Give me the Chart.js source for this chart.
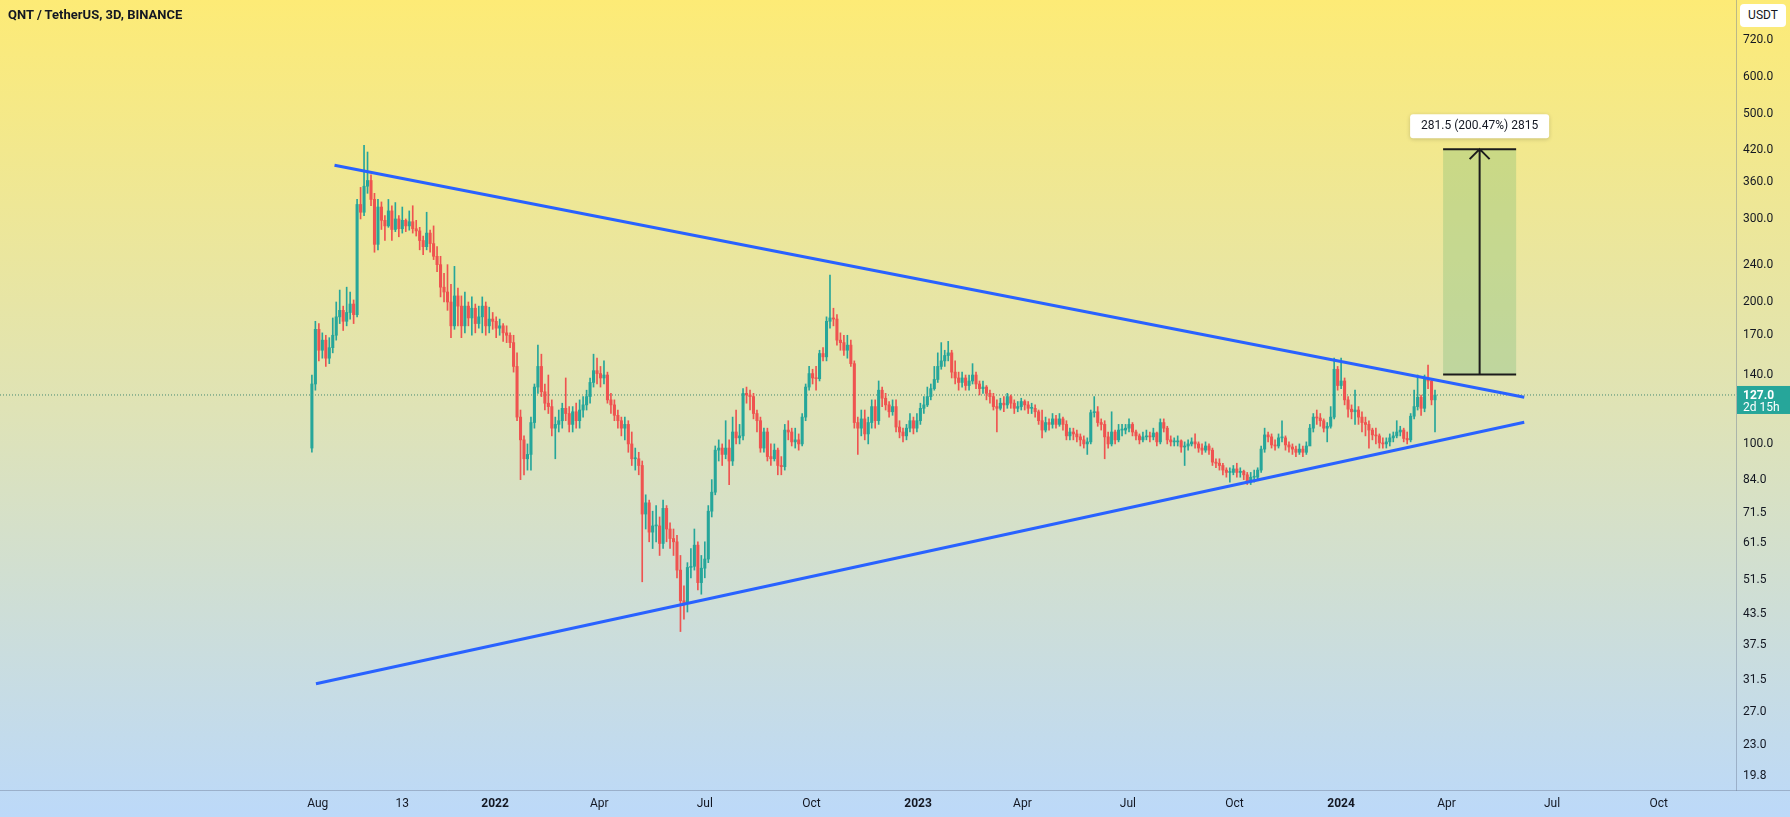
<!DOCTYPE html>
<html>
<head>
<meta charset="utf-8">
<script src="https://cdn.jsdelivr.net/npm/chart.js@4.4.1/dist/chart.umd.min.js"></script>
<style>
  html, body { margin: 0; padding: 0; }
  body {
    width: 1790px; height: 817px; overflow: hidden; position: relative;
    background: linear-gradient(180deg, #fdeb76 0%, #dfe3b6 50%, #bcd9f9 100%);
    font-family: Roboto, "Liberation Sans", sans-serif;
  }
  #chart { position: absolute; left: 0; top: 0; }
  #title { position: absolute; left: 8px; top: 7px; font-size: 13px; font-weight: bold; color: #131722; }
  #unit {
    position: absolute; left: 1740px; top: 4px; width: 46px; height: 23px; line-height: 23px;
    background: #fff; border-radius: 4px; text-align: center; font-size: 12px; color: #131722;
  }
</style>
</head>
<body>
<canvas id="chart" width="1790" height="817"></canvas>
<div id="title">QNT / TetherUS, 3D, BINANCE</div>
<div id="unit">USDT</div>
<script>
// days are counted from 2022-01-01, one candle every 3 days
const firstCandleDay = -158;
const candleStep = 3;
const firstOpen = 98;

const closes = [
  134, 175, 158, 166, 152, 160, 170, 186, 192, 182,
  190, 198, 188, 322, 310, 352, 362, 330, 265, 318,
  298, 290, 312, 285, 300, 286, 298, 290, 296, 286,
  283, 270, 262, 280, 266, 250, 240, 215, 210, 200,
  178, 206, 196, 178, 196, 185, 194, 180, 186, 196,
  178, 184, 182, 176, 178, 172, 170, 164, 146, 114,
  102, 93, 95, 111, 132, 146, 129, 122, 120, 108,
  110, 112, 119, 116, 110, 117, 112, 118, 121, 126,
  135, 143, 141, 138, 140, 124, 121, 115, 112, 108,
  110, 100, 93, 93, 90, 71, 75, 65, 67, 67,
  61.5, 73, 66, 63, 62, 54, 46.5, 46, 54.7, 55,
  61, 50.8, 54.5, 57, 72, 79, 97, 98, 95, 98,
  92, 106, 103, 104, 128, 127, 126, 116, 112, 98,
  106, 94, 93, 97, 90, 89.5, 107, 106, 101, 102,
  100, 114, 132, 141, 138, 137.5, 155.5, 153, 182, 185,
  184, 166, 164, 158, 162, 148, 111, 108, 113, 105,
  111, 120, 112, 130, 125, 121, 117, 120, 108.6, 106,
  104, 108, 112, 108, 112, 119, 121, 126, 131, 137,
  146, 150, 154, 156, 142, 138, 135, 138, 133, 136,
  140, 134, 131, 132, 128, 126, 120, 119, 122, 121,
  126, 122, 119, 120, 123, 121, 119, 119, 117, 112,
  107, 111, 110, 113, 110, 113, 110, 104, 106, 105,
  103.5, 102, 100, 101, 116.5, 117, 111, 110, 103.5, 100,
  106, 102, 107, 107, 108, 110, 106, 104, 102, 103.5,
  104, 103.5, 105.5, 101, 111, 108, 102, 101, 101, 101.5,
  98.5, 99, 100, 101, 100, 98, 97, 99, 97, 91.5,
  91, 90, 88, 87, 87, 88.5, 87, 87.5, 86, 83.5,
  85, 85, 88, 97.5, 104.5, 103.5, 99.5, 99, 103, 103,
  99.5, 98.5, 97.5, 96, 97.5, 96, 99, 108, 114, 113.5,
  112, 108, 109, 114, 144, 133, 136, 124, 118.5, 117,
  118, 114, 111, 110, 107, 104.5, 104, 100.5, 100, 101,
  103, 104, 106, 107, 102.7, 102, 114.5, 120, 125.6, 119,
  137.5, 136, 124, 127
];

const highs = [
  140, 182, 180, 172, 170, 168, 185, 200, 212, 196,
  215, 210, 202, 330, 350, 430, 416, 372, 340, 330,
  326, 305, 330, 320, 325, 305, 318, 300, 312, 320,
  298, 288, 276, 310, 284, 290, 262, 250, 230, 240,
  218, 238, 214, 206, 210, 200, 205, 198, 196, 205,
  200, 195, 190, 186, 184, 180, 178, 172, 170, 156,
  118, 104, 100, 114, 134, 162, 155, 134, 140, 124,
  114, 118, 122, 138, 120, 120, 122, 124, 126, 130,
  138, 155, 152, 146, 150, 142, 128, 124, 118, 114,
  114, 112, 106, 98, 96, 92, 78, 76, 72, 74,
  70, 76, 74, 68, 66, 64, 58, 50, 56, 60,
  66, 62, 58, 62, 74, 84, 99, 102, 100, 112,
  102, 114, 118, 110, 131, 132, 130, 128, 118, 114,
  108, 108, 100, 100, 98, 94, 110, 112, 108, 108,
  105, 116, 134, 146, 144, 146, 158, 160, 186, 228,
  194, 188, 172, 170, 170, 166, 150, 114, 118, 118,
  114, 124, 124, 136, 132, 128, 123, 124, 124, 112,
  108, 110, 116, 114, 116, 122, 126, 132, 134, 146,
  156, 164, 158, 165, 158, 150, 142, 142, 140, 140,
  148, 142, 136, 136, 133, 130, 128, 124, 125, 126,
  128, 127, 124, 123, 125, 124, 123, 122, 121, 118,
  118, 114, 113, 116, 115, 116, 114, 112, 108, 108,
  107, 105, 104, 103, 118, 126, 120, 113, 112, 106,
  117, 107, 110, 110, 110, 113, 111, 107, 105, 106,
  107, 106, 108, 106, 113, 113, 109, 104, 103, 104,
  102, 101, 102, 103, 105, 101, 100, 101, 100, 98,
  93, 93, 91, 89, 89, 90, 91, 89, 88, 87,
  87, 88, 89, 99, 108, 106, 105, 102, 105, 112,
  104, 101, 100, 99, 100, 99, 101, 110, 116, 118,
  116, 113, 111, 120, 152, 146, 152, 138, 126, 121,
  130, 120, 117, 114, 112, 108, 108, 105, 103, 103,
  105, 106, 112, 109, 108, 106, 116, 130, 140, 127,
  140, 147, 137, 130
];

const lows = [
  96, 130, 150, 152, 146, 148, 156, 166, 180, 174,
  178, 184, 180, 186, 300, 305, 340, 320, 255, 258,
  285, 270, 288, 270, 282, 275, 280, 282, 284, 280,
  276, 258, 252, 258, 255, 246, 232, 205, 200, 192,
  168, 175, 178, 168, 172, 178, 170, 172, 176, 172,
  170, 172, 175, 168, 170, 165, 164, 160, 142, 112,
  84, 86, 88, 88, 108, 128, 126, 118, 116, 104,
  93, 106, 108, 112, 106, 106, 108, 108, 114, 118,
  122, 132, 134, 132, 134, 122, 116, 112, 108, 104,
  102, 96, 90, 88, 86, 51, 66, 62, 60, 62,
  58, 60, 62, 60, 58, 52, 40, 42.5, 44, 52,
  54, 49, 48, 52, 56, 70, 78, 92, 90, 93,
  82, 90, 100, 100, 102, 122, 118, 113, 106, 96,
  96, 92, 90, 92, 86, 86, 88, 102, 99, 98,
  97, 99, 112, 130, 134, 130, 136, 150, 150, 176,
  178, 162, 158, 154, 152, 146, 108, 95, 104, 102,
  100, 108, 108, 110, 120, 118, 114, 115, 106, 103,
  101, 102, 106, 105, 106, 110, 116, 120, 124, 130,
  135, 144, 146, 150, 138, 134, 130, 132, 130, 130,
  134, 131, 127, 128, 124, 122, 118, 106, 118, 117,
  119, 119, 116, 117, 118, 118, 116, 116, 114, 110,
  103, 106, 107, 108, 108, 109, 107, 102, 102, 102,
  101, 99, 98, 95, 100, 114, 109, 107, 93, 98,
  99, 100, 101, 104, 105, 106, 104, 102, 100, 101,
  102, 101, 102, 99, 100, 106, 100, 99, 99, 99,
  96, 90, 97, 99, 98, 96, 95, 96, 95, 90,
  89, 88, 86, 85, 83, 86, 85, 85, 84, 82,
  82, 83, 84, 87, 96, 101, 98, 97, 98, 101,
  97, 96, 95, 94, 95, 94, 95, 102, 106, 110,
  109, 106, 101, 108, 113, 130, 131, 121, 114, 113,
  110, 110, 106, 104, 98, 102, 100, 98, 98, 98,
  99, 101, 103, 104, 101, 100, 101, 113, 118, 115,
  117, 131, 121, 106
];

// trend lines: [day, price]
const upperLine = [[-138.5, 390], [888, 125.6]];
const lowerLine = [[-154.5, 31], [888, 111.2]];

// price range measurement
const measureDays = [818, 881];
const measureFrom = 140.42;
const measureTo = 421.92;
const countdown = "2d 15h";

const xTickDays = [-153, -80, 0, 90, 181, 273, 365, 455, 546, 638, 730, 821, 912, 1004];
const xTickLabels = ["Aug", "13", "2022", "Apr", "Jul", "Oct", "2023", "Apr", "Jul", "Oct", "2024", "Apr", "Jul", "Oct"];
const yTicks = [19.8, 23, 27, 31.5, 37.5, 43.5, 51.5, 61.5, 71.5, 84, 100, 140, 170, 200, 240, 300, 360, 420, 500, 600, 720];

const GREEN = "#26a69a";
const RED = "#ef5350";

const candleDays = closes.map((c, i) => firstCandleDay + i * candleStep);
const opens = [firstOpen].concat(closes.slice(0, -1));
const colors = closes.map((c, i) => (c >= opens[i] ? GREEN : RED));
const lastPrice = closes[closes.length - 1];

const X_MIN = -427.1, X_MAX = 1070.7;

const overlay = {
  id: "overlay",
  beforeDatasetsDraw(chart) {
    const { ctx, scales: { x, y } } = chart;
    const l = x.getPixelForValue(measureDays[0]);
    const r = x.getPixelForValue(measureDays[1]);
    const t = y.getPixelForValue(measureTo);
    const b = y.getPixelForValue(measureFrom);
    ctx.save();
    ctx.fillStyle = "rgba(100,180,110,0.28)";
    ctx.fillRect(l, t, r - l, b - t);
    ctx.restore();
  },
  afterDraw(chart) {
    const { ctx, scales: { x, y }, chartArea } = chart;
    ctx.save();

    // bottom axis line runs under the price scale too
    ctx.strokeStyle = "rgba(110,125,150,0.45)";
    ctx.lineWidth = 1;
    ctx.beginPath();
    ctx.moveTo(0, chartArea.bottom + 0.5);
    ctx.lineTo(1790, chartArea.bottom + 0.5);
    ctx.stroke();

    // measurement: caps, arrow, label
    const l = x.getPixelForValue(measureDays[0]);
    const r = x.getPixelForValue(measureDays[1]);
    const t = y.getPixelForValue(measureTo);
    const b = y.getPixelForValue(measureFrom);
    const mid = (l + r) / 2;
    ctx.strokeStyle = "#1c1c1c";
    ctx.lineWidth = 2;
    ctx.beginPath();
    ctx.moveTo(l, t); ctx.lineTo(r, t);
    ctx.moveTo(l, b); ctx.lineTo(r, b);
    ctx.moveTo(mid, b); ctx.lineTo(mid, t);
    ctx.moveTo(mid - 10, t + 10); ctx.lineTo(mid, t); ctx.lineTo(mid + 10, t + 10);
    ctx.stroke();

    const diff = measureTo - measureFrom;
    const txt = diff.toFixed(1) + " (" + (diff / measureFrom * 100).toFixed(2) + "%) " + Math.round(diff * 10);
    ctx.font = "12px Roboto, 'Liberation Sans', sans-serif";
    const w = ctx.measureText(txt).width + 22;
    ctx.shadowColor = "rgba(0,0,0,0.18)";
    ctx.shadowBlur = 4;
    ctx.shadowOffsetY = 1;
    ctx.fillStyle = "#ffffff";
    ctx.beginPath();
    ctx.roundRect(mid - w / 2, t - 35, w, 24, 3);
    ctx.fill();
    ctx.shadowColor = "transparent";
    ctx.fillStyle = "#131722";
    ctx.textAlign = "center";
    ctx.textBaseline = "middle";
    ctx.fillText(txt, mid, t - 23);

    // last price tag on the price scale
    const py = y.getPixelForValue(lastPrice);
    ctx.fillStyle = GREEN;
    ctx.fillRect(chartArea.right + 1, py - 9, 1790 - chartArea.right - 1, 28);
    ctx.fillStyle = "#ffffff";
    ctx.textAlign = "left";
    ctx.font = "bold 12px Roboto, 'Liberation Sans', sans-serif";
    ctx.fillText(lastPrice.toFixed(1), chartArea.right + 7, py + 1);
    ctx.font = "12px Roboto, 'Liberation Sans', sans-serif";
    ctx.fillText(countdown, chartArea.right + 7, py + 13);
    ctx.restore();
  }
};

new Chart(document.getElementById("chart"), {
  type: "bar",
  data: {
    datasets: [
      {
        type: "line",
        data: upperLine.map(p => ({ x: p[0], y: p[1] })),
        borderColor: "#2962ff",
        borderWidth: 3,
        pointRadius: 0,
        order: 0,
      },
      {
        type: "line",
        data: lowerLine.map(p => ({ x: p[0], y: p[1] })),
        borderColor: "#2962ff",
        borderWidth: 3,
        pointRadius: 0,
        order: 0,
      },
      {
        type: "line",
        data: [{ x: X_MIN, y: lastPrice }, { x: X_MAX, y: lastPrice }],
        borderColor: "rgba(40,120,100,0.85)",
        borderWidth: 1,
        borderDash: [1, 2],
        pointRadius: 0,
        order: 3,
      },
      {
        label: "body",
        data: closes.map((c, i) => ({ x: candleDays[i], y: [opens[i], c] })),
        backgroundColor: colors,
        barThickness: 2.4,
        minBarLength: 1,
        grouped: false,
        order: 1,
      },
      {
        label: "wick",
        data: highs.map((h, i) => ({ x: candleDays[i], y: [lows[i], h] })),
        backgroundColor: colors,
        barThickness: 1,
        grouped: false,
        order: 2,
      },
    ],
  },
  options: {
    responsive: false,
    animation: false,
    devicePixelRatio: 1,
    layout: { padding: 0 },
    plugins: {
      legend: { display: false },
      tooltip: { enabled: false },
    },
    scales: {
      x: {
        type: "linear",
        min: X_MIN,
        max: X_MAX,
        offset: false,
        grid: { display: false, drawTicks: false, offset: false },
        border: { display: false },
        afterFit: s => { s.height = 27; s.paddingLeft = 0; s.paddingRight = 0; },
        afterBuildTicks: s => { s.ticks = xTickDays.map(v => ({ value: v })); },
        ticks: {
          autoSkip: false,
          maxRotation: 0,
          padding: 7,
          color: "#131722",
          font: ctx => ({
            family: "Roboto, 'Liberation Sans', sans-serif",
            size: 12,
            weight: /^\d{4}$/.test(xTickLabels[ctx.index] || "") ? "bold" : "normal",
          }),
          callback: (v, i) => xTickLabels[i],
        },
      },
      y: {
        type: "logarithmic",
        position: "right",
        min: 18.45,
        max: 874,
        grid: { display: false, drawTicks: false },
        border: { display: true, color: "rgba(110,125,150,0.45)" },
        afterFit: s => { s.width = 54; s.paddingTop = 0; s.paddingBottom = 0; },
        afterBuildTicks: s => { s.ticks = yTicks.map(v => ({ value: v })); },
        ticks: {
          padding: 7,
          color: "#131722",
          font: { family: "Roboto, 'Liberation Sans', sans-serif", size: 12 },
          callback: v => Number(v).toFixed(1),
        },
      },
    },
  },
  plugins: [overlay],
});
</script>
</body>
</html>
